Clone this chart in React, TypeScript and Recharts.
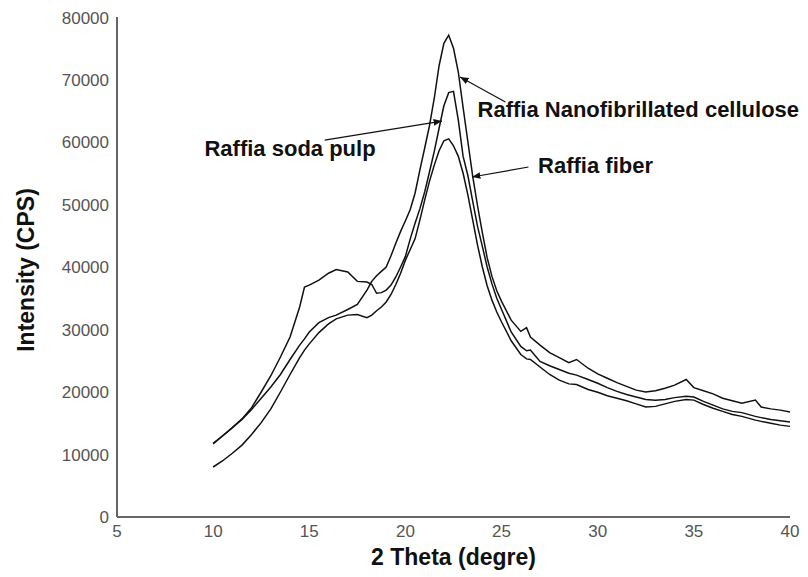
import { LineChart, Line, XAxis, YAxis, ReferenceLine, ReferenceDot } from 'recharts';

// 2 theta positions shared by the three diffractograms
const theta = [
  10, 10.5, 11, 11.5, 12, 12.5, 13, 13.5, 14, 14.5, 14.75, 15, 15.5, 16, 16.4, 17, 17.5, 18, 18.25, 18.5,
  18.75, 19, 19.25, 19.5, 19.75, 20, 20.25, 20.5, 20.75, 21, 21.25, 21.5, 21.75, 22, 22.25, 22.5, 22.75, 23, 23.25, 23.5,
  23.75, 24, 24.25, 24.5, 24.75, 25, 25.5, 26, 26.3, 26.5, 27, 27.5, 28, 28.5, 28.9, 29.5, 30, 30.5, 31, 31.5,
  32, 32.5, 33, 33.5, 34, 34.6, 35, 35.5, 36, 36.5, 37, 37.5, 38.2, 38.5, 39, 39.5, 40,
];

const nanofibrillated = [
  11800, 13000, 14300, 15600, 17200, 19000, 20800, 22800, 25200, 27500, 28500, 29600, 31100, 31900, 32300, 33200, 34000, 36300, 37700, 38600,
  39300, 40000, 41800, 43800, 45700, 47400, 49200, 51800, 55500, 59000, 62600, 67000, 72200, 75800, 77100, 75000, 71200, 65500, 60000, 54500,
  49800, 45500, 41500, 38500, 36200, 34500, 31500, 29700, 30300, 28800, 27500, 26300, 25500, 24700, 25200, 23800, 22900, 22200, 21500, 20900,
  20300, 20000, 20200, 20600, 21100, 22000, 20700, 20200, 19700, 19000, 18600, 18200, 18700, 17600, 17300, 17100, 16800,
];

const sodaPulp = [
  11700, 13000, 14300, 15700, 17500, 20000, 22600, 25600, 28800, 33600, 36800, 37100, 37900, 39000, 39600, 39200, 37700, 37600, 37200, 35800,
  35900, 36300, 37100, 38400, 40000, 41700, 44500, 47000, 49300, 52000, 55200, 58500, 62200, 65800, 67900, 68100, 63500, 57700, 54600, 50500,
  46500, 43300, 40000, 37300, 35000, 33200, 29600, 27300, 26600, 26700, 24900, 24200, 23600, 23000, 22700, 22000, 21400, 20700, 20100, 19600,
  19200, 18800, 18700, 18800, 19100, 19300, 19200, 18500, 17900, 17300, 16900, 16700, 16100, 15900, 15600, 15400, 15200,
];

const fiber = [
  8000, 9000, 10200, 11500, 13200, 15100, 17300, 20000, 22800, 25500, 26700, 27700, 29500, 30900, 31700, 32300, 32400, 31900, 32300, 33000,
  33600, 34400, 35600, 37200, 39000, 41100, 42800, 44500, 47500, 50700, 53700, 56300, 58600, 60200, 60500, 59400, 57700, 55000, 51500, 47500,
  43500, 40000, 37000, 34700, 32800, 31200, 28200, 26000, 25300, 25200, 24000, 22800, 21900, 21300, 21200, 20400, 19950, 19400, 19000, 18600,
  18100, 17600, 17700, 18100, 18500, 18800, 18700, 18000, 17400, 16900, 16400, 16100, 15500, 15300, 15000, 14700, 14500,
];

const xTicks = [5, 10, 15, 20, 25, 30, 35, 40];
const yTicks = [0, 10000, 20000, 30000, 40000, 50000, 60000, 70000, 80000];

// annotation text anchors and arrows, in data units
const annotations = [
  { text: 'Raffia Nanofibrillated cellulose', x: 23.75, y: 65300, from: { x: 25.2, y: 66400 }, to: { x: 22.84, y: 70400 } },
  { text: 'Raffia soda pulp', x: 9.55, y: 59000, from: { x: 15.8, y: 60300 }, to: { x: 21.9, y: 63350 } },
  { text: 'Raffia fiber', x: 26.9, y: 56400, from: { x: 26.4, y: 56000 }, to: { x: 23.46, y: 54400 } },
];

const data = theta.map((t, i) => ({
  theta: t,
  nfc: nanofibrillated[i],
  soda: sodaPulp[i],
  fiber: fiber[i],
}));

const font = '"Liberation Sans", Arial, sans-serif';

function XTitle({ viewBox }: any) {
  return (
    <text x={viewBox.x + viewBox.width / 2} y={viewBox.y + 48} textAnchor="middle"
      fontFamily={font} fontWeight="bold" fontSize={23} fill="#111">
      2 Theta (degre)
    </text>
  );
}

function YTitle({ viewBox }: any) {
  const x = viewBox.x + 26;
  const y = viewBox.y + viewBox.height / 2 + 3;
  return (
    <text x={x} y={y} transform={`rotate(-90, ${x}, ${y})`} textAnchor="middle"
      fontFamily={font} fontWeight="bold" fontSize={23} fill="#111">
      Intensity (CPS)
    </text>
  );
}

function NoteText({ viewBox, value }: any) {
  return (
    <text x={viewBox.x} y={viewBox.y + 8} fontFamily={font} fontWeight="bold" fontSize={22} fill="#111">
      {value}
    </text>
  );
}

export default function App() {
  return (
    <div style={{ width: 800, height: 569, background: '#fff' }}>
      <LineChart width={800} height={569} data={data} margin={{ top: 9, right: 18, bottom: 0, left: 0 }}>
        <defs>
          <marker id="arrowHead" viewBox="0 0 10 10" refX="10" refY="5" markerWidth="7" markerHeight="7" orient="auto">
            <path d="M0,1 L10,5 L0,9 z" fill="#111" />
          </marker>
        </defs>
        <XAxis
          dataKey="theta"
          type="number"
          domain={[5, 40]}
          ticks={xTicks}
          tickLine={false}
          height={60}
          axisLine={{ stroke: '#666', strokeWidth: 2 }}
          tick={{ fill: '#555', fontSize: 17, fontFamily: font }}
          label={{ content: <XTitle /> }}
        />
        <YAxis
          type="number"
          domain={[0, 80000]}
          ticks={yTicks}
          width={109}
          tickLine={false}
          axisLine={{ stroke: '#666', strokeWidth: 2 }}
          tick={{ fill: '#555', fontSize: 17, fontFamily: font }}
          label={{ content: <YTitle /> }}
        />
        <Line type="linear" dataKey="nfc" name="Raffia Nanofibrillated cellulose" stroke="#111" strokeWidth={1.5} dot={false} isAnimationActive={false} />
        <Line type="linear" dataKey="soda" name="Raffia soda pulp" stroke="#111" strokeWidth={1.5} dot={false} isAnimationActive={false} />
        <Line type="linear" dataKey="fiber" name="Raffia fiber" stroke="#111" strokeWidth={1.5} dot={false} isAnimationActive={false} />
        {annotations.map(a => (
          <ReferenceLine key={a.text + '-arrow'} segment={[a.from, a.to]} stroke="#111" strokeWidth={1.2} markerEnd="url(#arrowHead)" />
        ))}
        {annotations.map(a => (
          <ReferenceDot key={a.text} x={a.x} y={a.y} r={0} stroke="none" fill="none"
            label={{ value: a.text, content: <NoteText value={a.text} /> }} />
        ))}
      </LineChart>
    </div>
  );
}
